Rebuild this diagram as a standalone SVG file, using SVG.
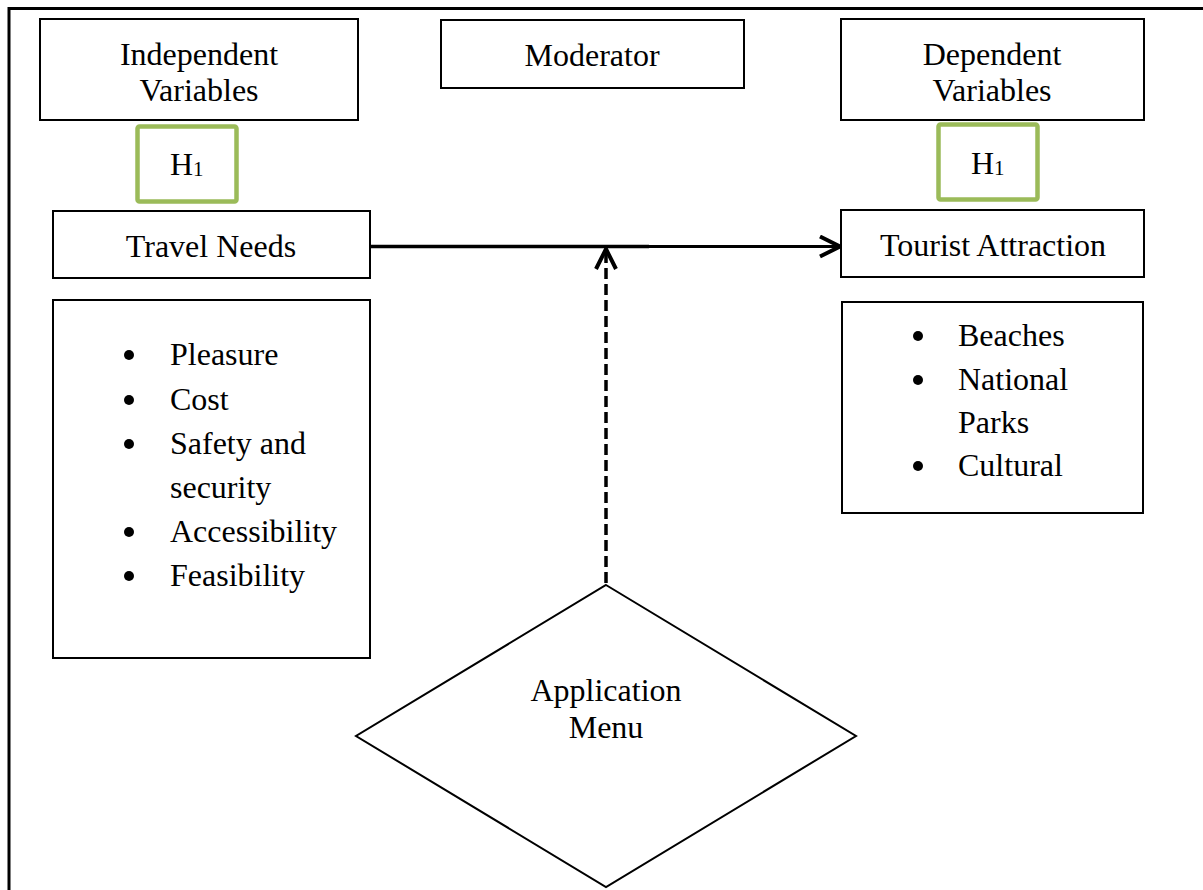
<svg xmlns="http://www.w3.org/2000/svg" width="1203" height="890" viewBox="0 0 1203 890">
  <style>
    .box { fill: #fff; stroke: #000; stroke-width: 2; }
    .hyp { fill: #fff; stroke: #9BBB59; stroke-width: 4.5; }
    .t { font-family: "Liberation Serif", "Times New Roman", serif; font-size: 32px; fill: #000; }
    .c { text-anchor: middle; }
    .sub { font-size: 21px; }
    .line { fill: none; stroke: #000; }
  </style>
  <defs>
    <marker id="chev" viewBox="0 0 24 24" refX="22" refY="12" markerWidth="24" markerHeight="24" markerUnits="userSpaceOnUse" orient="auto">
      <path d="M2,2 L22,12 L2,22" fill="none" stroke="#000" stroke-width="4"/>
    </marker>
  </defs>

  <rect width="1203" height="890" fill="#fff"/>
  <!-- frame: left and top rules only -->
  <path d="M9,890 V8.5 H1203" fill="none" stroke="#000" stroke-width="3"/>

  <g id="independent">
    <rect class="box" x="40" y="19" width="318" height="101"/>
    <text class="t c" x="199" y="65">Independent</text>
    <text class="t c" x="199" y="101">Variables</text>
  </g>

  <g id="moderator">
    <rect class="box" x="441" y="20" width="303" height="68"/>
    <text class="t c" x="592" y="66">Moderator</text>
  </g>

  <g id="dependent">
    <rect class="box" x="841" y="19" width="303" height="101"/>
    <text class="t c" x="992" y="65">Dependent</text>
    <text class="t c" x="992" y="101">Variables</text>
  </g>

  <g id="h1-left">
    <rect class="hyp" x="137.5" y="126.5" width="99" height="75" rx="2"/>
    <text class="t" x="170" y="175">H<tspan class="sub" dy="1">1</tspan></text>
  </g>

  <g id="h1-right">
    <rect class="hyp" x="938.5" y="124.5" width="99" height="75" rx="2"/>
    <text class="t" x="971" y="174">H<tspan class="sub" dy="1">1</tspan></text>
  </g>

  <g id="travel-needs">
    <rect class="box" x="53" y="211" width="317" height="67"/>
    <text class="t c" x="211" y="257">Travel Needs</text>
  </g>

  <g id="tourist-attraction">
    <rect class="box" x="841" y="210" width="303" height="67"/>
    <text class="t c" x="993" y="256">Tourist Attraction</text>
  </g>

  <g id="needs-list">
    <rect class="box" x="53" y="300" width="317" height="358"/>
    <g class="t">
      <circle cx="129" cy="355" r="5"/>
      <text x="170" y="365">Pleasure</text>
      <circle cx="129" cy="400" r="5"/>
      <text x="170" y="410">Cost</text>
      <circle cx="129" cy="444" r="5"/>
      <text x="170" y="454">Safety and</text>
      <text x="170" y="498">security</text>
      <circle cx="129" cy="532" r="5"/>
      <text x="170" y="542">Accessibility</text>
      <circle cx="129" cy="576" r="5"/>
      <text x="170" y="586">Feasibility</text>
    </g>
  </g>

  <g id="attraction-list">
    <rect class="box" x="842" y="302" width="301" height="211"/>
    <g class="t">
      <circle cx="918" cy="336" r="5"/>
      <text x="958" y="346">Beaches</text>
      <circle cx="918" cy="380" r="5"/>
      <text x="958" y="390">National</text>
      <text x="958" y="433">Parks</text>
      <circle cx="918" cy="466" r="5"/>
      <text x="958" y="476">Cultural</text>
    </g>
  </g>

  <g id="application-menu">
    <polygon class="box" points="606,585 856,736 606,887 356,736"/>
    <text class="t c" x="606" y="701">Application</text>
    <text class="t c" x="606" y="738">Menu</text>
  </g>

  <g id="connectors">
    <line class="line" x1="370" y1="246.5" x2="649" y2="246.5" stroke-width="3.5"/>
    <line class="line" x1="648" y1="246.5" x2="840" y2="246.5" stroke-width="3" marker-end="url(#chev)"/>
    <line class="line" x1="606" y1="583" x2="606" y2="249" stroke-width="3.5" stroke-dasharray="11 5" marker-end="url(#chev)"/>
  </g>
</svg>
